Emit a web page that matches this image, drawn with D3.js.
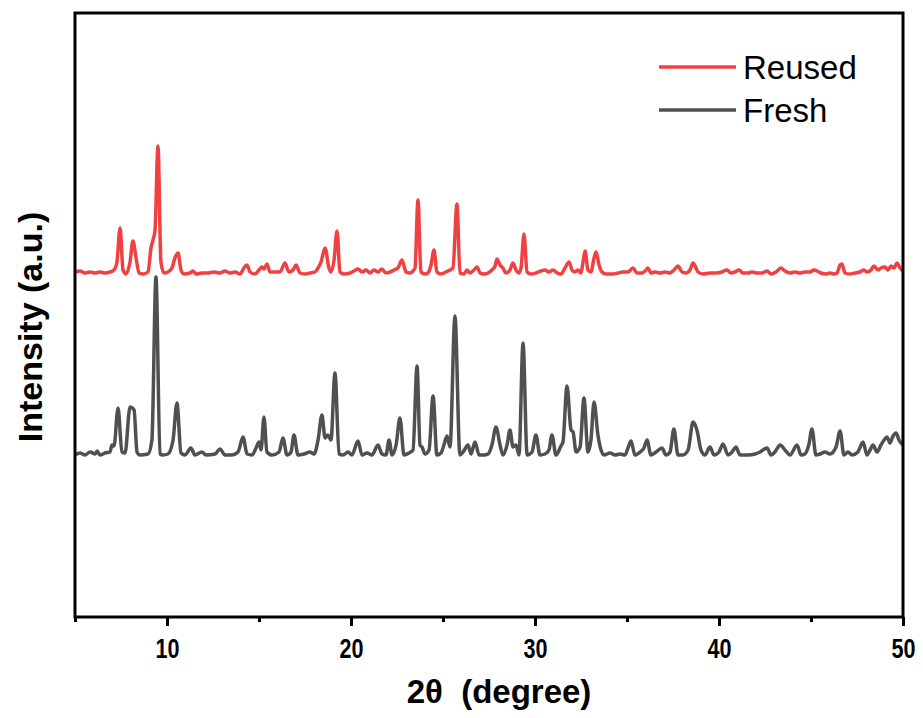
<html>
<head>
<script src="https://d3js.org/d3.v7.min.js"></script>
</head>
<body style="margin:0">
<svg id="xrd" width="923" height="718"></svg>
<style>
  text { font-family: Arial, "Liberation Sans", sans-serif; }
</style>
<script>
// Fresh sample: 2-theta (deg) and intensity (a.u., above its own baseline)
const freshTheta = [5.00,5.27,5.54,5.82,6.09,6.20,6.36,6.63,6.90,7.01,7.12,7.34,7.55,7.72,7.99,8.21,8.37,8.53,8.97,9.18,9.40,9.62,9.78,10.05,10.33,10.54,10.76,10.98,11.30,11.52,11.90,12.12,12.61,12.88,13.15,13.53,13.86,14.13,14.35,14.62,14.84,15.00,15.11,15.27,15.43,15.71,16.09,16.30,16.52,16.74,16.90,17.12,17.45,17.77,17.99,18.21,18.42,18.59,18.75,18.91,19.13,19.35,19.57,19.84,20.05,20.38,20.60,20.87,21.14,21.47,21.68,21.90,22.07,22.23,22.45,22.66,22.88,23.15,23.37,23.59,23.75,23.86,24.02,24.24,24.46,24.67,24.89,25.05,25.22,25.38,25.65,25.92,26.09,26.36,26.52,26.74,26.96,27.23,27.45,27.66,27.88,28.10,28.26,28.48,28.64,28.80,28.97,29.13,29.35,29.57,29.84,30.05,30.27,30.54,30.76,30.92,31.14,31.41,31.52,31.74,31.96,32.07,32.23,32.45,32.66,32.88,33.04,33.21,33.42,33.59,33.75,34.08,34.35,34.62,34.89,35.05,35.22,35.43,35.71,35.92,36.09,36.30,36.58,36.90,37.12,37.34,37.55,37.77,38.04,38.32,38.59,38.80,39.02,39.24,39.51,39.73,40.00,40.22,40.49,40.71,40.92,41.14,41.58,41.96,42.23,42.61,42.83,43.04,43.32,43.59,43.86,44.24,44.46,44.67,44.89,45.05,45.27,45.49,45.76,46.03,46.36,46.58,46.79,47.01,47.23,47.55,47.83,48.04,48.21,48.37,48.59,48.80,48.97,49.13,49.29,49.46,49.62,49.78,50.00];
const freshInt = [0,2,0,3,1,4,0,2,3,10,9,47,3,2,48,45,3,0,1,15,178,1,0,1,15,52,2,0,7,0,3,0,1,6,0,0,3,18,1,0,7,13,5,38,3,0,3,17,0,3,20,0,1,3,1,15,40,17,20,15,82,1,0,3,0,14,0,2,0,10,1,0,15,0,10,37,0,2,5,89,10,8,1,5,59,0,2,10,19,8,139,0,3,10,1,13,0,0,1,10,28,10,0,10,25,8,10,0,112,0,3,20,0,1,5,20,0,9,13,69,25,23,3,8,57,3,15,53,20,5,0,2,0,1,0,7,14,0,3,7,15,0,3,7,0,3,26,0,0,5,33,25,5,0,8,0,3,11,0,3,8,0,0,1,3,7,0,3,10,5,0,10,0,1,11,26,0,1,3,1,8,24,0,3,0,3,13,0,5,10,3,10,15,18,12,19,22,15,10];

// Reused sample
const reusedTheta = [5.00,5.27,5.54,5.82,6.09,6.36,6.63,6.90,7.12,7.28,7.45,7.61,7.77,7.99,8.15,8.32,8.48,8.70,8.97,9.13,9.24,9.35,9.51,9.67,9.84,10.05,10.27,10.43,10.60,10.76,10.92,11.25,11.41,11.58,11.90,12.23,12.55,12.88,13.15,13.42,13.70,13.97,14.18,14.35,14.51,14.78,15.00,15.16,15.27,15.43,15.60,15.87,16.14,16.41,16.63,16.85,17.01,17.23,17.50,17.77,18.04,18.21,18.37,18.59,18.80,18.91,19.08,19.24,19.40,19.62,19.95,20.16,20.38,20.60,20.82,21.03,21.25,21.47,21.68,21.90,22.12,22.34,22.55,22.77,22.99,23.21,23.37,23.48,23.64,23.80,24.02,24.18,24.35,24.51,24.67,24.89,25.16,25.38,25.54,25.76,25.92,26.14,26.30,26.47,26.68,26.85,27.01,27.23,27.45,27.66,27.83,27.93,28.10,28.26,28.42,28.64,28.80,28.97,29.13,29.24,29.40,29.57,29.78,30.05,30.33,30.54,30.76,30.98,31.20,31.41,31.63,31.85,32.01,32.17,32.34,32.50,32.61,32.72,32.88,33.04,33.21,33.32,33.48,33.64,33.86,34.18,34.51,34.78,35.05,35.33,35.54,35.82,35.98,36.14,36.30,36.52,36.79,37.07,37.34,37.55,37.77,37.99,38.21,38.42,38.59,38.70,38.86,39.13,39.51,39.84,40.16,40.43,40.65,40.87,41.09,41.30,41.58,41.79,42.07,42.34,42.61,42.83,43.10,43.37,43.59,43.86,44.13,44.40,44.67,44.95,45.16,45.33,45.54,45.82,46.03,46.25,46.41,46.58,46.68,46.85,47.12,47.39,47.66,47.88,48.04,48.26,48.42,48.64,48.80,49.02,49.18,49.35,49.51,49.67,49.84,50.00];
const reusedInt = [2,3,1,2,1,2,1,2,4,12,46,4,0,12,33,16,1,0,2,26,34,44,128,12,1,2,6,16,21,4,0,1,3,0,1,1,2,1,3,1,2,0,6,9,2,0,4,7,5,10,2,2,2,11,2,4,9,1,0,1,2,6,12,26,6,2,14,43,2,0,1,3,5,2,4,1,4,2,5,1,2,4,6,14,2,1,3,6,74,2,0,1,9,24,2,0,2,4,6,70,1,0,4,1,4,7,1,0,1,4,8,15,9,6,1,4,11,4,1,6,40,2,0,1,3,4,2,4,1,0,6,12,4,2,4,1,12,23,4,2,16,22,9,2,0,0,1,2,2,6,1,1,3,6,1,2,1,2,1,4,8,2,1,4,11,8,2,0,1,1,2,4,1,2,4,1,1,2,1,1,3,0,2,6,3,1,2,1,2,2,4,3,1,0,1,0,1,9,10,1,0,1,2,4,2,4,8,4,6,7,4,8,6,11,6,3];

// stacking offsets for the two patterns
const freshOffset = 162;
const reusedOffset = 343;

const seriesNames = ['Reused', 'Fresh'];
const seriesColors = ['#f04041', '#505050'];
const xTicks = [10, 20, 30, 40, 50];
const xMinorTicks = [5, 15, 25, 35, 45];

const svg = d3.select('svg#xrd');
const margin = {top: 13, right: 20, bottom: 101, left: 75};
const width = 923 - margin.left - margin.right;
const height = 718 - margin.top - margin.bottom;

const x = d3.scaleLinear().domain([5, 50]).range([0, width]);
const y = d3.scaleLinear().domain([0, 604]).range([height, 0]);

const g = svg.append('g').attr('transform', `translate(${margin.left},${margin.top})`);

g.append('clipPath').attr('id', 'plotclip')
  .append('rect').attr('width', width).attr('height', height);

const fresh = freshTheta.map((t, i) => ({t: t, v: freshInt[i] + freshOffset}));
const reused = reusedTheta.map((t, i) => ({t: t, v: reusedInt[i] + reusedOffset}));

const line = d3.line().x(d => x(d.t)).y(d => y(d.v)).curve(d3.curveMonotoneX);

g.append('path').datum(fresh)
  .attr('d', line).attr('fill', 'none')
  .attr('stroke', seriesColors[1]).attr('stroke-width', 3.5)
  .attr('stroke-linejoin', 'round').attr('clip-path', 'url(#plotclip)');

g.append('path').datum(reused)
  .attr('d', line).attr('fill', 'none')
  .attr('stroke', seriesColors[0]).attr('stroke-width', 3.5)
  .attr('stroke-linejoin', 'round').attr('clip-path', 'url(#plotclip)');

// frame
g.append('rect').attr('width', width).attr('height', height)
  .attr('fill', 'none').attr('stroke', 'black').attr('stroke-width', 3);

// x axis, major + minor ticks
const xAxis = g.append('g').attr('transform', `translate(0,${height})`)
  .call(d3.axisBottom(x).tickValues(xTicks).tickSize(9).tickPadding(13).tickFormat(d3.format('d')));
xAxis.select('.domain').remove();
xAxis.selectAll('line').attr('stroke', 'black').attr('stroke-width', 3);
xAxis.selectAll('text')
  .attr('font-size', '27px').attr('font-weight', 'bold').attr('fill', 'black')
  .attr('font-family', 'Arial, "Liberation Sans", sans-serif')
  .attr('transform', 'scale(0.8,1)');

const xMinor = g.append('g').attr('transform', `translate(0,${height})`)
  .call(d3.axisBottom(x).tickValues(xMinorTicks).tickSize(5).tickFormat(''));
xMinor.select('.domain').remove();
xMinor.selectAll('line').attr('stroke', 'black').attr('stroke-width', 3);

// axis titles
svg.append('text')
  .attr('x', margin.left + width / 2 + 10).attr('y', 703)
  .attr('text-anchor', 'middle')
  .attr('font-size', '33px').attr('font-weight', 'bold')
  .style('white-space', 'pre')
  .text('2θ  (degree)');

svg.append('text')
  .attr('transform', 'translate(42,327) rotate(-90)')
  .attr('text-anchor', 'middle')
  .attr('font-size', '34px').attr('font-weight', 'bold')
  .text('Intensity (a.u.)');

// legend
const legend = svg.append('g');
seriesNames.forEach((name, i) => {
  const ly = 67 + i * 43;
  legend.append('line')
    .attr('x1', 659).attr('x2', 736).attr('y1', ly).attr('y2', ly)
    .attr('stroke', seriesColors[i]).attr('stroke-width', 3.5);
  legend.append('text')
    .attr('x', 743).attr('y', ly + 12)
    .attr('font-size', '33px')
    .text(name);
});
</script>
</body>
</html>
